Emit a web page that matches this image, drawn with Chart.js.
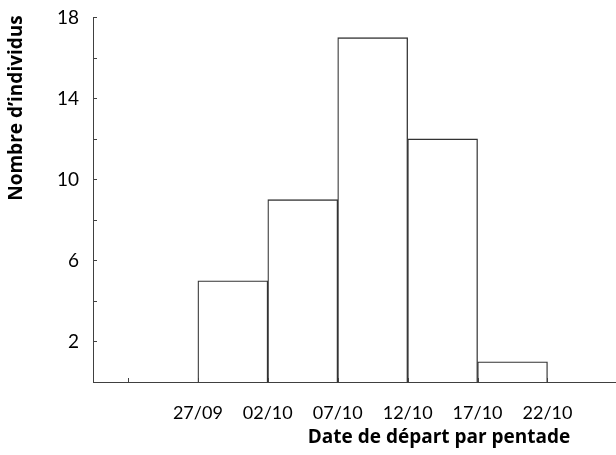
<!DOCTYPE html>
<html>
<head>
<meta charset="utf-8">
<script src="https://cdn.jsdelivr.net/npm/chart.js@4/dist/chart.umd.min.js"></script>
<style>
  html, body { margin: 0; padding: 0; background: #fff; overflow: hidden; }
  #wrap { width: 616px; height: 455px; position: relative; }
</style>
</head>
<body>
<div id="wrap"><canvas id="histChart" width="616" height="455"></canvas></div>
<script>
// Histogram bins (pentades), left edges at positions 2..6 on the x scale
const binCenters = [2.5, 3.5, 4.5, 5.5, 6.5];
const counts = [5, 9, 17, 12, 1];
// Tick labels for bin edges 2..7
const edgeTicks = [1, 2, 3, 4, 5, 6, 7, 8];
const edgeLabels = {2: '27/09', 3: '02/10', 4: '07/10', 5: '12/10', 6: '17/10', 7: '22/10'};
const yTicks = [2, 6, 10, 14, 18];
const yMinorTicks = [0, 4, 8, 12, 16];

const axisColor = '#404040';
const fontFam = 'Lato, "Open Sans", sans-serif';
const titleFam = '"Open Sans", sans-serif';

// Inward tick marks + axis titles
const decorPlugin = {
    id: 'decor',
    afterDraw(chart) {
        const c = chart.ctx;
        const xs = chart.scales.x, ys = chart.scales.y;
        const area = chart.chartArea;
        c.save();
        c.strokeStyle = axisColor;
        c.lineWidth = 1;
        c.beginPath();
        yTicks.concat(yMinorTicks).forEach(function (v) {
            const py = Math.round(ys.getPixelForValue(v)) + 0.5;
            c.moveTo(area.left, py);
            c.lineTo(area.left + 4, py);
        });
        edgeTicks.forEach(function (v) {
            const px = Math.round(xs.getPixelForValue(v)) + 0.5;
            c.moveTo(px, area.bottom);
            c.lineTo(px, area.bottom - 4);
        });
        c.stroke();

        c.fillStyle = '#000';
        c.font = 'bold 19px ' + titleFam;
        c.textAlign = 'center';
        c.textBaseline = 'middle';
        c.fillText('Date de départ par pentade', 439, 438);
        c.translate(17, 108);
        c.rotate(-Math.PI / 2);
        c.fillText('Nombre d\u2019individus', 0, 0);
        c.restore();
    }
};

const ctx = document.getElementById('histChart').getContext('2d');
const histChart = new Chart(ctx, {
    type: 'bar',
    data: {
        datasets: [{
            data: binCenters.map(function (x, i) { return {x: x, y: counts[i]}; }),
            backgroundColor: '#ffffff',
            borderColor: '#333333',
            borderWidth: 1.3,
            borderSkipped: 'bottom',
            barPercentage: 1,
            categoryPercentage: 1
        }]
    },
    options: {
        responsive: false,
        animation: false,
        layout: { padding: { top: 14, right: 0, left: 0, bottom: 0 } },
        plugins: { legend: { display: false }, tooltip: { enabled: false } },
        scales: {
            x: {
                type: 'linear',
                offset: false,
                min: 0.5,
                max: 7.98,
                grid: { display: false, offset: false },
                border: { display: true, color: axisColor, width: 1 },
                afterBuildTicks: function (axis) {
                    axis.ticks = edgeTicks.map(function (v) { return {value: v}; });
                },
                afterFit: function (axis) {
                    axis.height = 73;
                    axis.paddingLeft = 0;
                    axis.paddingRight = 0;
                },
                ticks: {
                    autoSkip: false,
                    maxRotation: 0,
                    padding: 12,
                    color: '#000',
                    font: { family: fontFam, size: 18 },
                    callback: function (v) { return edgeLabels[v] || ''; }
                }
            },
            y: {
                min: 0,
                max: 18,
                grid: { display: false },
                border: { display: true, color: axisColor, width: 1 },
                afterBuildTicks: function (axis) {
                    axis.ticks = yTicks.map(function (v) { return {value: v}; });
                },
                afterFit: function (axis) { axis.width = 93; },
                ticks: {
                    padding: 6,
                    color: '#000',
                    font: { family: fontFam, size: 19 }
                }
            }
        }
    },
    plugins: [decorPlugin]
});
</script>
</body>
</html>
